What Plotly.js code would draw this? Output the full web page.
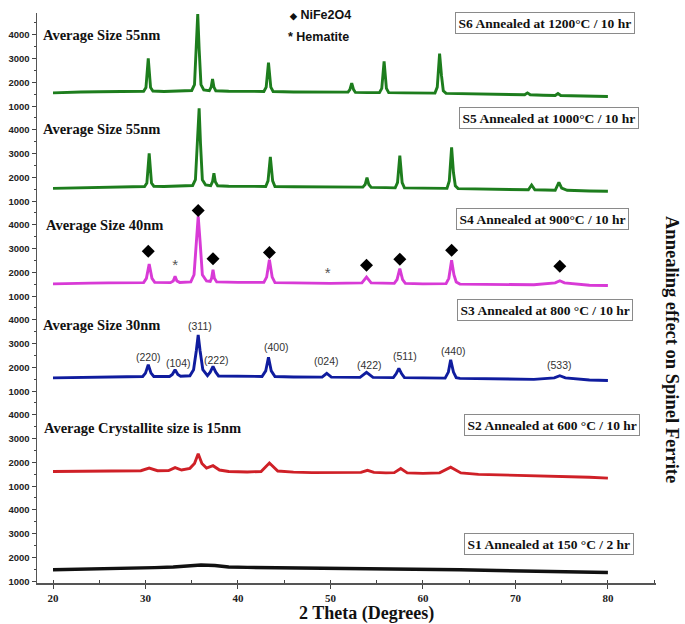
<!DOCTYPE html>
<html>
<head>
<meta charset="utf-8">
<script src="https://cdn.plot.ly/plotly-3.0.1.min.js"></script>
<style>html,body{margin:0;padding:0;background:#fff;}#chart{width:685px;height:624px;}</style>
</head>
<body>
<div id="chart"></div>
<script>
// ---- data (2θ in degrees, intensity in counts) ----
const tt_S6 = [20,21.5,23,25,27,29,29.8,30.05,30.3,30.55,30.8,32,33.5,35.0,35.3,35.5,35.65,35.8,36.0,36.3,36.9,37.1,37.25,37.4,37.6,39,41,42.8,43.05,43.3,43.55,43.8,46,48,50,51.9,52.1,52.3,52.5,52.7,54,55.3,55.55,55.8,56.05,56.3,58,60,61.3,61.55,61.8,62.0,62.2,62.5,64,66,68,71,71.3,71.6,73,74.3,74.6,74.9,76,78,80];
const I_S6  = [1560,1590,1600,1610,1620,1620,1630,1780,3000,1780,1640,1620,1630,1660,1900,3400,4850,3400,1900,1680,1650,1800,2140,1800,1650,1630,1620,1620,1800,2820,1800,1620,1600,1600,1590,1590,1700,1970,1700,1580,1570,1570,1750,2875,1750,1570,1560,1550,1550,1800,3200,2300,1650,1540,1530,1510,1500,1480,1560,1480,1460,1450,1530,1450,1440,1420,1410];

const tt_S5 = [20,22,24,26,28,29.9,30.15,30.4,30.65,30.9,32,34,35.1,35.4,35.6,35.8,35.95,36.15,36.5,37.05,37.25,37.4,37.55,37.8,39,41,43.0,43.25,43.5,43.75,44.0,46,48,50,53.5,53.75,53.95,54.15,54.4,56,57.0,57.25,57.5,57.75,58.0,60,62.6,62.85,63.1,63.3,63.5,63.8,66,68,71.4,71.75,72.1,74.3,74.7,75.0,75.6,78,80];
const I_S5  = [1540,1560,1580,1600,1610,1620,1760,3000,1760,1630,1620,1630,1660,1900,3400,4880,3400,1900,1680,1650,1820,2170,1820,1650,1630,1620,1620,1850,2850,1850,1620,1610,1600,1600,1590,1700,1990,1700,1580,1570,1560,1780,2900,1780,1560,1550,1540,1850,3250,2200,1650,1530,1510,1490,1480,1680,1480,1460,1790,1550,1460,1430,1420];

const tt_S4 = [20,22,24,26,28,29.8,30.1,30.4,30.7,31.0,32.7,33.0,33.2,33.4,33.7,34.9,35.25,35.5,35.7,35.9,36.15,36.6,37.0,37.15,37.3,37.45,37.7,40,42.8,43.1,43.4,43.7,44.0,46,48,50,53.4,53.9,54.4,56.9,57.2,57.5,57.8,58.1,60,62.5,62.8,63.1,63.35,63.6,64,68,72,74.3,74.8,75.3,78,80];
const I_S4  = [1520,1550,1550,1560,1560,1570,1750,2350,1750,1580,1570,1640,1830,1640,1580,1600,1900,3300,4330,3300,1900,1640,1620,1750,2110,1750,1600,1580,1580,1800,2530,1800,1570,1560,1550,1540,1560,1800,1560,1540,1700,2150,1700,1540,1520,1530,1750,2500,1900,1600,1510,1490,1480,1560,1650,1560,1460,1450];

const tt_S3 = [20,22,24,26,28,29.7,30.0,30.3,30.6,30.9,32.6,32.9,33.2,33.5,33.8,34.8,35.2,35.5,35.7,35.9,36.2,36.7,37.0,37.3,37.6,37.9,40,42.6,43.0,43.3,43.6,44.0,46,49.1,49.6,50.1,53.2,53.9,54.6,56.8,57.1,57.4,57.7,58.0,60,62.4,62.75,63.0,63.3,63.6,64,68,72,74.2,74.8,75.4,78,80];
const I_S3  = [1560,1580,1600,1610,1610,1620,1760,2110,1760,1620,1620,1700,1900,1700,1630,1650,1900,2700,3350,2700,1900,1650,1800,2040,1800,1640,1620,1620,1850,2420,1850,1620,1600,1590,1750,1590,1580,1790,1580,1570,1730,1960,1730,1570,1560,1550,1800,2310,1800,1570,1540,1520,1500,1560,1650,1560,1470,1450];

const tt_S2 = [20,22,24,26,28,29.5,30.4,31.3,32.5,33.2,33.9,34.8,35.3,35.7,36.1,36.6,37.3,38.0,39,41,42.5,43.4,44.3,46,48,50,52,53.3,54.0,54.7,56,56.9,57.6,58.3,60,61.8,63.0,64.1,66,68,70,72,74,76,78,80];
const I_S2  = [1620,1630,1620,1630,1630,1650,1760,1650,1660,1780,1680,1750,1950,2360,1950,1760,1860,1680,1620,1600,1620,1970,1640,1590,1570,1570,1570,1580,1670,1580,1560,1570,1740,1560,1540,1560,1800,1560,1500,1480,1460,1450,1430,1420,1380,1340];

const tt_S1 = [20,23,26,29,31,33,34.5,36,37.5,39,41,44,48,52,56,60,64,68,72,76,80];
const I_S1  = [1480,1500,1510,1540,1570,1600,1650,1680,1660,1600,1580,1570,1560,1550,1530,1520,1480,1450,1420,1400,1370];

const sampleLabels = ["S1 Annealed at 150 °C / 2 hr","S2 Annealed at 600 °C / 10 hr","S3 Annealed at 800 °C / 10 hr","S4 Annealed at 900°C / 10 hr","S5 Annealed at 1000°C / 10 hr","S6 Annealed at 1200°C / 10 hr"];
const sizeLabels = ["","Average Crystallite size is 15nm","Average Size 30nm","Average Size 40nm","Average Size 55nm","Average Size 55nm"];

// NiFe2O4 (diamond) and hematite (asterisk) markers on S4
const spinelTT = [30.3,35.7,37.3,43.4,53.9,57.5,63.1,74.8];
const spinelY  = [2875,4580,2570,2830,2300,2550,2920,2250];
const hemTT = [33.2,49.7];
const hemY  = [2250,1900];

// Miller indices on S3
const hklText = ["(220)","(104)","(311)","(222)","(400)","(024)","(422)","(511)","(440)","(533)"];
const hklTT   = [30.3,33.55,35.9,37.7,44.2,49.6,54.2,58.1,63.35,74.8];
const hklY    = [2446,2170,3725,2320,2830,2280,2110,2490,2670,2100];

// ---- figure ----
const colors = ["#111111","#cf2027","#0f1c9e","#d83ad6","#1d7d1d","#1d7d1d"];
const series = [[tt_S1,I_S1],[tt_S2,I_S2],[tt_S3,I_S3],[tt_S4,I_S4],[tt_S5,I_S5],[tt_S6,I_S6]];
const yName = i => i===0 ? 'y' : 'y'+(i+1);
const yKey = i => i===0 ? 'yaxis' : 'yaxis'+(i+1);

const traces = series.map((s,i)=>({
  x:s[0], y:s[1], type:'scatter', mode:'lines', xaxis:'x', yaxis:yName(i),
  line:{color:colors[i], width:(i===0?3.4:2.9)}, hoverinfo:'skip', showlegend:false
}));
traces.push({x:spinelTT, y:spinelY, type:'scatter', mode:'markers', xaxis:'x', yaxis:'y4',
  marker:{symbol:'diamond', size:10, color:'#000'}, showlegend:false});
traces.push({x:hemTT, y:hemY, type:'scatter', mode:'text', xaxis:'x', yaxis:'y4',
  text:hemTT.map(()=>'*'), textfont:{family:'Liberation Sans, Arial', size:15, color:'#555'}, showlegend:false});

const L=37, R=656, T=13, B=583;
const px = v => (v-L)/(R-L);
const py = v => (B-v)/(B-T);

const serifB = {family:'Liberation Serif, Times New Roman, serif', weight:'bold', color:'#111'};
const ann = [];
// sample boxes (pixel centers)
const boxCx = [548.5,552,544.5,542.5,549,544.5];
const boxCy = [544,424.5,310,218.5,117.5,22.5];
sampleLabels.forEach((t,i)=>ann.push({text:t, xref:'paper', yref:'paper', x:px(boxCx[i]), y:py(boxCy[i]),
  xanchor:'center', yanchor:'middle', showarrow:false, font:Object.assign({size:13.5},serifB),
  bordercolor:'#8a8a8a', borderwidth:1, borderpad:2.5, bgcolor:'#fff'}));
// size labels
const sizeX = [0,42,41,44,41,41];
const sizeY = [0,427.7,325,225,129,35];
sizeLabels.forEach((t,i)=>{ if(t) ann.push({text:t, xref:'paper', yref:'paper', x:px(sizeX[i]), y:py(sizeY[i]),
  xanchor:'left', yanchor:'middle', showarrow:false, font:Object.assign({size:14.5},serifB)}); });
// hkl labels
hklText.forEach((t,i)=>ann.push({text:t, xref:'x', yref:'y3', x:hklTT[i], y:hklY[i], showarrow:false,
  xanchor:'center', yanchor:'middle', font:{family:'Liberation Sans, Arial', size:10.5, color:'#333'}}));
// legend
ann.push({text:'<span style="font-size:9px">◆</span> NiFe2O4', xref:'paper', yref:'paper', x:px(287), y:py(15),
  xanchor:'left', yanchor:'middle', showarrow:false, font:{family:'Liberation Sans, Arial', size:12.5, weight:'bold', color:'#111'}});
ann.push({text:'* Hematite', xref:'paper', yref:'paper', x:px(286), y:py(37),
  xanchor:'left', yanchor:'middle', showarrow:false, font:{family:'Liberation Sans, Arial', size:12.5, weight:'bold', color:'#111'}});
// axis titles
ann.push({text:'2 Theta (Degrees)', xref:'paper', yref:'paper', x:px(366), y:py(613), xanchor:'center', yanchor:'middle',
  showarrow:false, font:Object.assign({size:18},serifB)});
ann.push({text:'Annealing effect on Spinel Ferrite', xref:'paper', yref:'paper', x:px(672), y:py(349), xanchor:'center', yanchor:'middle',
  textangle:90, showarrow:false, font:Object.assign({size:18.5},serifB)});

const layout = {
  width:685, height:624, margin:{l:L, r:685-R, t:T, b:624-B},
  paper_bgcolor:'#fff', plot_bgcolor:'#fff', showlegend:false,
  xaxis:{range:[18.27,85.2], tickmode:'linear', tick0:0, dtick:10, ticks:'outside', ticklen:4, tickwidth:1, tickcolor:'#444',
    showline:true, linecolor:'#555', linewidth:1.5, showgrid:false, zeroline:false, anchor:'y',
    tickfont:{family:'Liberation Serif, Times New Roman, serif', size:11, weight:'bold', color:'#222'},
    minor:{dtick:5, tick0:0, ticks:'inside', ticklen:3, tickcolor:'#444', showgrid:false}},
  annotations:ann
};
for(let i=0;i<6;i++){
  layout[yKey(i)] = {domain:[i/6,(i+1)/6], range:[930,4890], tickmode:'linear', tick0:0, dtick:1000,
    ticks:'outside', ticklen:4, tickwidth:1, tickcolor:'#444', showline:true, linecolor:'#555', linewidth:1.5,
    showgrid:false, zeroline:false, anchor:'x',
    tickfont:{family:'Liberation Sans, Arial', size:9.5, weight:'bold', color:'#222'},
    minor:{dtick:500, tick0:0, ticks:'outside', ticklen:2, tickcolor:'#444', showgrid:false}};
}
Plotly.newPlot('chart', traces, layout, {staticPlot:true});
</script>
</body>
</html>
